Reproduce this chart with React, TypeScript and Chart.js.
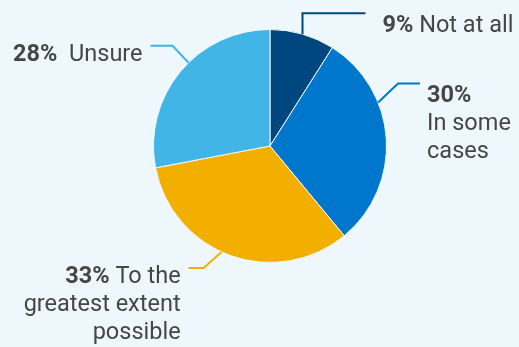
import React, { useEffect, useRef } from "react";
import { Chart, registerables } from "chart.js";

Chart.register(...registerables);

const categories = ["Not at all", "In some cases", "To the greatest extent possible", "Unsure"];
const values = [9, 30, 33, 28];
const colors = ["#00467f", "#0077cc", "#f2af00", "#41b5e6"];
// label text lines printed after the bold percentage (first entry shares the line with it)
const labelLines = [["Not at all"], ["", "In some", "cases"], ["To the", "greatest extent", "possible"], [" Unsure"]];

const BG = "#eef8fc";
const TEXT = "#464646";
const FONT_SIZE = 23.5;
const LINE_H = 28;

// leader geometry: fraction along slice where it touches, elbow offset, horizontal run, text gap, align, baseline offset
const leaders = [
  { frac: 0.5, dx: 0, dy: -21, run: 63, gap: 17, align: "left", base: 18.5 },
  { frac: 0.33, dx: 20, dy: -19, run: 22, gap: 7, align: "left", base: 19 },
  { frac: 0.54, dx: -18, dy: 16, run: -15, gap: 8, align: "right", base: 15.5 },
  { frac: 0.56, dx: -16, dy: -17, run: -22, gap: 8, align: "right", base: 15 },
];

const labelPlugin = {
  id: "leaderLabels",
  afterDraw(chart: any) {
    const ctx = chart.ctx as CanvasRenderingContext2D;
    const meta = chart.getDatasetMeta(0);
    meta.data.forEach((arc: any, i: number) => {
      const { x, y, startAngle, endAngle, outerRadius } = arc.getProps(
        ["x", "y", "startAngle", "endAngle", "outerRadius"],
        true
      );
      const L = leaders[i];
      const a = startAngle + L.frac * (endAngle - startAngle);
      const ax = x + outerRadius * Math.cos(a);
      const ay = y + outerRadius * Math.sin(a);
      const ex = ax + L.dx;
      const ey = ay + L.dy;
      const hx = ex + L.run;
      ctx.save();
      ctx.strokeStyle = colors[i];
      ctx.lineWidth = 2;
      ctx.beginPath();
      ctx.moveTo(ax, ay);
      ctx.lineTo(ex, ey);
      ctx.lineTo(hx, ey);
      ctx.stroke();

      const boldFont = `bold ${FONT_SIZE}px Roboto`;
      const regFont = `${FONT_SIZE}px Roboto`;
      const pct = `${values[i]}%`;
      const lines = labelLines[i];
      const tx = L.align === "left" ? hx + L.gap : hx - L.gap;
      const baseline0 = ey + L.base;
      ctx.fillStyle = TEXT;
      ctx.textBaseline = "alphabetic";
      ctx.textAlign = "left";
      lines.forEach((ln, j) => {
        const by = baseline0 + j * LINE_H;
        if (j === 0) {
          ctx.font = boldFont;
          const pw = ctx.measureText(pct).width;
          ctx.font = regFont;
          const rest = ln ? " " + ln : "";
          const rw = ctx.measureText(rest).width;
          const start = L.align === "left" ? tx : tx - pw - rw;
          ctx.font = boldFont;
          ctx.fillText(pct, start, by);
          ctx.font = regFont;
          ctx.fillText(rest, start + pw, by);
        } else {
          ctx.font = regFont;
          const w = ctx.measureText(ln).width;
          const start = L.align === "left" ? tx : tx - w;
          ctx.fillText(ln, start, by);
        }
      });
      ctx.restore();
    });
  },
};

export default function App() {
  const ref = useRef<HTMLCanvasElement>(null);
  useEffect(() => {
    document.body.style.margin = "0";
    document.body.style.background = BG;
    const chart = new Chart(ref.current!, {
      type: "pie",
      data: {
        labels: categories,
        datasets: [
          {
            data: values,
            backgroundColor: colors,
            borderColor: BG,
            borderWidth: 1,
          },
        ],
      },
      options: {
        animation: false,
        responsive: false,
        maintainAspectRatio: false,
        layout: { padding: { left: 153, top: 29, right: 132, bottom: 84 } },
        plugins: {
          legend: { display: false },
          tooltip: { enabled: false },
        },
      },
      plugins: [labelPlugin],
    });
    return () => chart.destroy();
  }, []);
  return (
    <div style={{ width: 519, height: 347, background: BG }}>
      <canvas ref={ref} width={519} height={347} style={{ display: "block" }} />
    </div>
  );
}
